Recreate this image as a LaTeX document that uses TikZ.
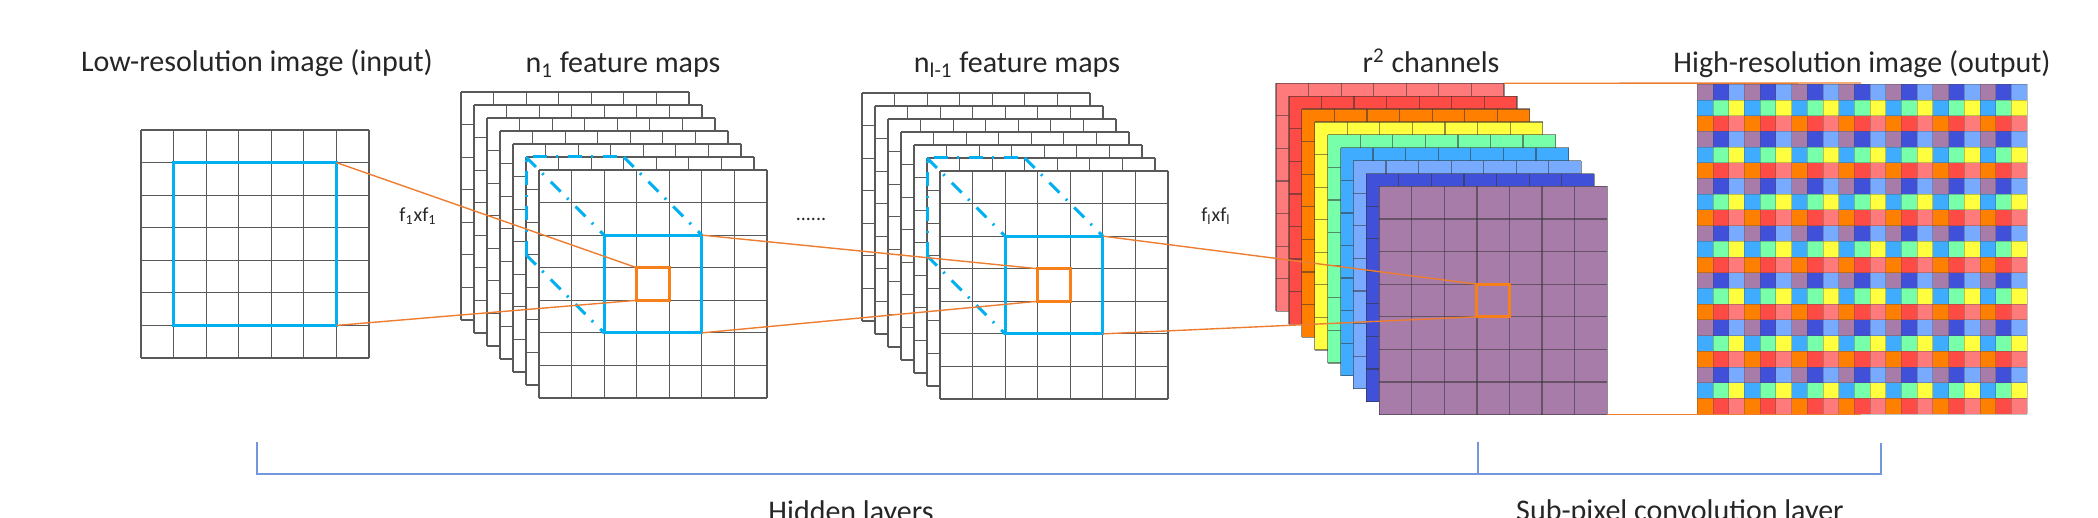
\documentclass[tikz,border=0pt]{standalone}
\usepackage{fontspec}
\setmainfont{Carlito}
\definecolor{c0}{HTML}{FF7B7B}
\definecolor{c1}{HTML}{FF4B45}
\definecolor{c2}{HTML}{FF8000}
\definecolor{c3}{HTML}{FFFF40}
\definecolor{c4}{HTML}{78FFAA}
\definecolor{c5}{HTML}{40ACFF}
\definecolor{c6}{HTML}{78AAFF}
\definecolor{c7}{HTML}{4050D8}
\definecolor{c8}{HTML}{A87CA8}
\definecolor{cyanb}{HTML}{00B0F0}
\definecolor{orline}{HTML}{ED7D31}
\definecolor{orsq}{HTML}{F7801A}
\definecolor{brk}{HTML}{7396DC}
\definecolor{txt}{HTML}{262626}
\newcommand\drawlayer[4]{%
  \fill[#3] ({#1},{#2}) rectangle ++(228,228);
  \foreach \k in {0,...,7}{
    \draw[#4] ({#1+\k*228/7},{#2}) -- ({#1+\k*228/7},{#2+228});
    \draw[#4] ({#1},{#2+\k*228/7}) -- ({#1+228},{#2+\k*228/7});
  }
}
\begin{document}
\begin{tikzpicture}[x=0.5pt,y=-0.5pt,
  gridline/.style={draw=black!65,line width=0.6pt},
  colgrid/.style={draw=black!80,draw opacity=0.55,line width=0.6pt},
  bluebox/.style={draw=cyanb,line width=1.5pt},
  dashdotbox/.style={draw=cyanb,line width=1.5pt,dash pattern=on 7pt off 4.5pt on 1pt off 5pt},
  orangebox/.style={draw=orsq,line width=1.5pt},
  link/.style={draw=orline,line width=0.7pt},
  bracket/.style={draw=brk,line width=0.8pt},
  title/.style={anchor=base,text=txt,font=\fontsize{15}{18}\selectfont,inner sep=0pt},
  small/.style={anchor=base,text=txt,font=\fontsize{10}{12}\selectfont,inner sep=0pt}]
\useasboundingbox (0,0) rectangle (2098,518);
\clip (0,0) rectangle (2098,518);
\pgfmathsetmacro\s{228/7}

% ---------- titles ----------
\node[title] (tin) at (257,72) {Low-resolution image (input)};
\node[title] (tn1) at (623,73) {n\textsubscript{1} feature maps};
\node[title] (tnl) at (1017,73) {n\textsubscript{l-1} feature maps};
\node[title] (tr2) at (1431,73) {r\textsuperscript{2} channels};
\node[title] (tout) at (1862,73) {High-resolution image (output)};

% ---------- input grid ----------
\drawlayer{141}{130}{white}{gridline}
\coordinate (inA) at (141+\s,130+\s);
\coordinate (inB) at (141+6*\s,130+6*\s);
\coordinate (inTR) at (141+6*\s,130+\s);
\coordinate (inBR) at (141+6*\s,130+6*\s);
\draw[bluebox] (inA) rectangle (inB);
\node[small] (f1) at (418,222) {f\textsubscript{1}xf\textsubscript{1}};

% ---------- stack 1 ----------
\foreach \i in {0,...,6}{\drawlayer{461+13*\i}{92+13*\i}{white}{gridline}}
\coordinate (sa) at (539+2*\s,170+2*\s);
\coordinate (sb) at (539+5*\s,170+5*\s);
\coordinate (saTR) at (539+5*\s,170+2*\s);
\coordinate (saBR) at (539+5*\s,170+5*\s);
\coordinate (saBL) at (539+2*\s,170+5*\s);
\coordinate (oa) at (539+3*\s,170+3*\s);
\coordinate (ob) at (539+4*\s,170+4*\s);
\coordinate (oaBL) at (539+3*\s,170+4*\s);
\coordinate (da) at (526,157);
\coordinate (daTR) at (526+3*\s,157);
\coordinate (daBL) at (526,157+3*\s);
\draw[dashdotbox] (daBL) -- (da) -- (daTR);
\draw[dashdotbox] (da) -- (sa);
\draw[dashdotbox] (daTR) -- (saTR);
\draw[dashdotbox] (daBL) -- (saBL);
\draw[bluebox] (sa) rectangle (sb);
\draw[orangebox] (oa) rectangle (ob);

\node[small] (dots) at (811,221) {......};

% ---------- stack 2 ----------
\foreach \i in {0,...,6}{\drawlayer{862+13*\i}{93+13*\i}{white}{gridline}}
\coordinate (tb) at (940+2*\s,171+2*\s);
\coordinate (tc) at (940+5*\s,171+5*\s);
\coordinate (tbTR) at (940+5*\s,171+2*\s);
\coordinate (tbBR) at (940+5*\s,171+5*\s);
\coordinate (tbBL) at (940+2*\s,171+5*\s);
\coordinate (pa) at (940+3*\s,171+3*\s);
\coordinate (pb) at (940+4*\s,171+4*\s);
\coordinate (paBL) at (940+3*\s,171+4*\s);
\coordinate (ea) at (927,158);
\coordinate (eaTR) at (927+3*\s,158);
\coordinate (eaBL) at (927,158+3*\s);
\draw[dashdotbox] (eaBL) -- (ea) -- (eaTR);
\draw[dashdotbox] (ea) -- (tb);
\draw[dashdotbox] (eaTR) -- (tbTR);
\draw[dashdotbox] (eaBL) -- (tbBL);
\draw[bluebox] (tb) rectangle (tc);
\draw[orangebox] (pa) rectangle (pb);
\node[small] (fl) at (1216,222) {f\textsubscript{l}xf\textsubscript{l}};

% ---------- stack 3 (r^2 channels) ----------
\foreach \i/\c in {0/c0,1/c1,2/c2,3/c3,4/c4,5/c5,6/c6,7/c7,8/c8}{\drawlayer{1276+12.9*\i}{83.3+12.9*\i}{\c}{colgrid}}
\coordinate (qa) at (1379.2+3*\s,186.5+3*\s);
\coordinate (qb) at (1379.2+4*\s,186.5+4*\s);
\coordinate (qaBL) at (1379.2+3*\s,186.5+4*\s);
\coordinate (backTR) at (1504,83.3);
\coordinate (frontBR) at (1607.2,414.5);
\draw[orangebox] (qa) rectangle (qb);

% ---------- output grid ----------
\foreach \r in {0,...,20}{
  \foreach \cc in {0,...,20}{
    \pgfmathtruncatemacro\idx{8-3*mod(\r,3)-mod(\cc,3)}
    \fill[c\idx] ({1697.3+\cc*15.7},{84.3+\r*15.7}) rectangle ++(15.7,15.7);
  }
}
\foreach \k in {0,...,21}{
  \draw[draw=black!70,draw opacity=0.35,line width=0.4pt] ({1697.3+\k*15.7},84.3) -- ++(0,329.7);
  \draw[draw=black!70,draw opacity=0.35,line width=0.4pt] (1697.3,{84.3+\k*15.7}) -- ++(329.7,0);
}
\coordinate (outT) at (1861,83);
\coordinate (outB) at (1861,414.5);

% ---------- connectors ----------
\draw[link] (inTR) -- (oa);
\draw[link] (inBR) -- (oaBL);
\draw[link] (saTR) -- (pa);
\draw[link] (saBR) -- (paBL);
\draw[link] (tbTR) -- (qa);
\draw[link] (tbBR) -- (qaBL);
\draw[link] (backTR) -- (outT);
\draw[link] (frontBR) -- (outB);

% ---------- bottom bracket ----------
\coordinate (bL) at (257,442);
\coordinate (bLb) at (257,474);
\coordinate (bM) at (1477.7,442);
\coordinate (bMb) at (1477.7,474);
\coordinate (bR) at (1881,443);
\coordinate (bRb) at (1881,474);
\draw[bracket] (bL) -- (bLb) -- (bRb) -- (bR);
\draw[bracket] (bM) -- (bMb);
\node[title] (hid) at (851,521) {Hidden layers};
\node[title] (sub) at (1680,520) {Sub-pixel convolution layer};
\end{tikzpicture}
\end{document}
